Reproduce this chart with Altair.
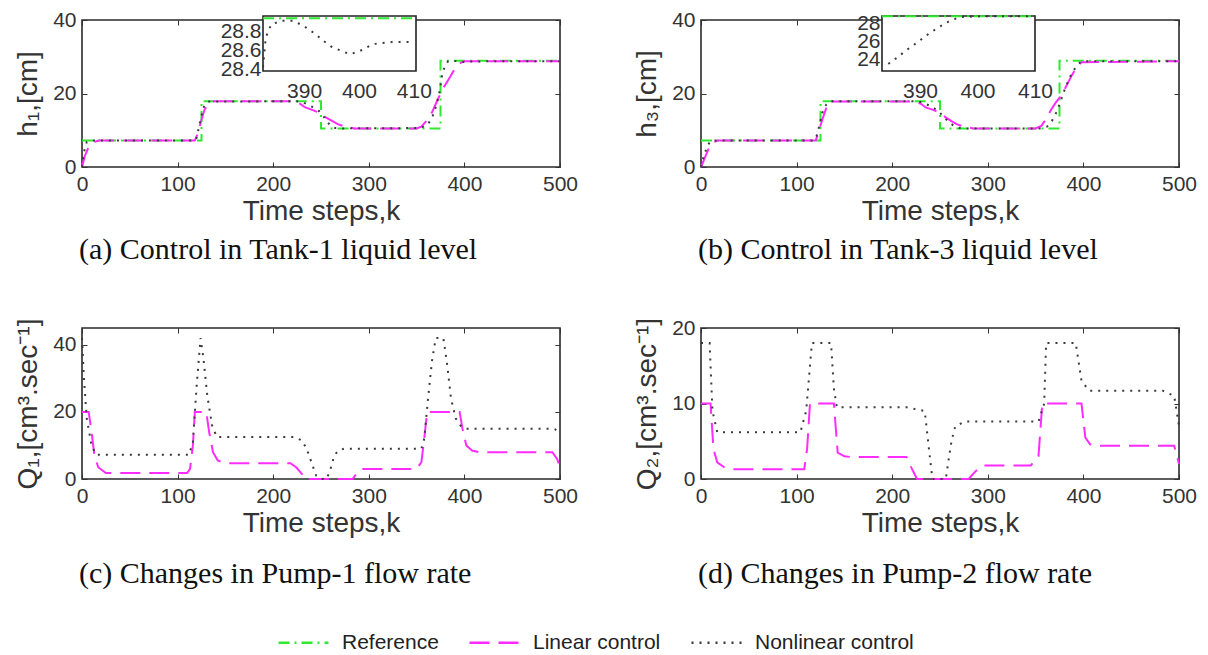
import altair as alt
import pandas as pd

# ---------------- data ----------------
SERIES = ["Reference", "Linear control", "Nonlinear control"]

# reference set-point (same for Tank-1 and Tank-3)
ref_t = [0, 125, 125, 250, 250, 375, 375, 500]
ref_v = [7.2, 7.2, 17.9, 17.9, 10.5, 10.5, 28.9, 28.9]

# (a) h1
lin_h1_t = [0, 3, 7, 12, 18, 118, 121, 124, 128, 132, 138, 222, 227, 233, 240, 248, 255, 262, 268, 275, 285,
            350, 355, 360, 366, 372, 378, 385, 390, 395, 400, 500]
lin_h1_v = [0, 3, 5.5, 6.8, 7.2, 7.2, 9, 12, 15.5, 17.2, 17.9, 17.9, 17.4, 16.3, 15.6, 14.8, 13.5, 12.5, 11.6, 11, 10.5,
            10.5, 11, 12.5, 14.8, 18.3, 21.5, 24.5, 26.8, 28.2, 28.8, 28.8]
non_h1_t = [0, 2, 5, 8, 118, 120, 122, 125, 128, 132, 225, 232, 240, 248, 252, 256, 260, 265, 270,
            354, 362, 367, 371, 374, 377, 380, 383, 388, 392, 396, 400, 404, 410, 430, 500]
non_h1_v = [0, 4, 6.8, 7.2, 7.2, 8, 10.5, 14, 16.8, 17.8, 17.9, 17.5, 16.5, 15.2, 14, 12.5, 11.2, 10.6, 10.5,
            10.6, 11.6, 14, 17, 20.5, 25.5, 27.7, 28.8, 28.9, 28.8, 28.6, 28.6, 28.7, 28.7, 28.8, 28.8]

# (b) h3
lin_h3_t = [0, 4, 8, 13, 18, 120, 123, 127, 131, 135, 225, 230, 235, 242, 250, 256, 262, 268, 275, 285,
            350, 356, 361, 366, 371, 377, 382, 388, 393, 398, 500]
lin_h3_v = [0, 2.5, 5, 6.8, 7.2, 7.2, 9.5, 13, 16, 17.8, 17.8, 17.2, 16.2, 15.6, 14.8, 13.5, 12.5, 11.6, 11, 10.5,
            10.5, 11.2, 13, 15.5, 17.5, 19.5, 22, 25, 27.2, 28.5, 28.8]
non_h3_t = [0, 3, 7, 11, 118, 121, 124, 127, 131, 135, 226, 232, 240, 248, 254, 260, 266, 272,
            356, 362, 367, 372, 377, 381, 384.5, 388, 391.5, 394.5, 397.5, 402, 500]
non_h3_v = [0, 3, 6, 7.2, 7.2, 8.5, 11.5, 14.8, 17, 17.9, 17.9, 17.5, 16.6, 15.3, 13.6, 12, 11, 10.5,
            10.5, 11, 12.5, 15, 18.5, 21.5, 23.6, 25.6, 26.9, 28.0, 28.6, 28.8, 28.8]

# (c) Q1
lin_q1_t = [0, 7, 10, 13, 17, 25, 110, 113, 116, 118, 130, 133, 137, 142, 150, 218, 224, 230, 233, 283, 287, 292,
            350, 355, 358, 361, 395, 398, 402, 408, 415, 492, 497, 500]
lin_q1_v = [20, 20, 14, 7, 3.5, 1.8, 1.8, 3, 10, 20, 20, 14, 8, 5.5, 4.7, 4.7, 3.5, 1.5, 0, 0, 1.5, 3,
            3, 5, 12, 20, 20, 15, 10, 8.5, 8, 8, 6, 3.5]
non_q1_t = [0, 2, 5, 10, 15, 112, 116, 120, 124, 127, 131, 136, 141, 222, 230, 235, 240, 245, 250, 256, 260,
            264, 268, 274, 355, 358, 362, 366, 370, 378, 382, 386, 391, 397, 403, 490, 495, 500]
non_q1_v = [42, 30, 18, 10, 7.2, 7.2, 11, 28, 42, 36, 25, 16, 12.5, 12.5, 11.5, 9, 5, 1, 0, 0, 3,
            7, 8.5, 9, 9, 12, 24, 35, 42, 42, 34, 24, 18, 15.5, 15, 15, 14.8, 13.5]

# (d) Q2
lin_q2_t = [0, 10, 13, 17, 25, 35, 108, 111, 114, 139, 143, 150, 158, 215, 220, 226, 280, 287, 295,
            345, 353, 357, 398, 402, 407, 414, 495, 500]
lin_q2_v = [10, 10, 4, 2.2, 1.5, 1.3, 1.3, 4, 10, 10, 3.5, 3.0, 2.9, 2.9, 1.5, 0, 0, 1.0, 1.8,
            1.8, 3, 10, 10, 5.5, 4.6, 4.4, 4.4, 2]
non_q2_t = [0, 9, 12, 17, 104, 110, 116, 136, 139, 142, 215, 234, 242, 256, 262, 266, 276,
            353, 359, 361, 392, 398, 406, 483, 495, 500]
non_q2_v = [18, 18, 9, 6.2, 6.2, 9, 18, 18, 12, 9.5, 9.5, 9, 0, 0, 5, 7, 7.6,
            7.6, 10, 18, 18, 13, 11.7, 11.7, 11, 7]

# insets (zoom of 383..410)
ins_a_non_t = [382.5, 383, 384, 386, 388, 390, 392, 393.6, 395, 397, 398.4, 400, 401.3, 402.7, 404.3, 406, 410]
ins_a_non_v = [28.42, 28.74, 28.88, 28.92, 28.92, 28.86, 28.78, 28.7, 28.64, 28.59, 28.56, 28.59, 28.63, 28.67,
               28.68, 28.69, 28.69]
ins_a_ref_t = [382.5, 410.4]
ins_a_ref_v = [28.945, 28.945]
ins_b_non_t = [384.5, 386.1, 387.5, 388.9, 390.3, 391.6, 393.1, 394.5, 395.9, 397.3, 400, 410]
ins_b_non_v = [23.57, 24.29, 25.0, 25.62, 26.27, 26.88, 27.49, 28.03, 28.43, 28.68, 28.74, 28.75]
ins_b_ref_t = [383.4, 410]
ins_b_ref_v = [28.76, 28.76]

X_TICKS = [0, 100, 200, 300, 400, 500]

# ---------------- styling ----------------
COLORS = ["#2fe82f", "#ff2bff", "#3a3a3a"]
DASHES = [[11, 5, 2, 5], [20, 9], [2, 6]]
LBL = "Liberation Sans"
SERIF = "Liberation Serif"
TXT = "#333333"
W, H1, H2 = 478, 147, 151


def long(parts):
    rows = []
    for name, ts, vs in parts:
        for i, (t, v) in enumerate(zip(ts, vs)):
            rows.append({"t": t, "v": v, "series": name, "i": i})
    return pd.DataFrame(rows)


color_enc = alt.Color("series:N", scale=alt.Scale(domain=SERIES, range=COLORS),
                      legend=alt.Legend(title=None, orient="none", direction="horizontal",
                                        legendX=195, legendY=596, symbolType="stroke",
                                        symbolSize=2500, symbolStrokeWidth=2.5, labelFont=LBL,
                                        labelFontSize=21, labelColor="#222", labelOffset=12,
                                        columnPadding=25, labelLimit=400))
dash_enc = alt.StrokeDash("series:N", scale=alt.Scale(domain=SERIES, range=DASHES), legend=None)


def tick_axis(orient, offset, values):
    return alt.Axis(orient=orient, offset=offset, values=values, labels=False, domain=False,
                    grid=False, ticks=True, tickSize=5, tickColor="#333", tickWidth=1, title=None)


def panel(parts, ydom, yticks, ytitle, caption, h, cap_off, inset=None):
    df = long(parts)
    xsc = alt.Scale(domain=[0, 500], nice=False)
    ysc = alt.Scale(domain=ydom, nice=False)
    main = alt.Chart(df).mark_line(strokeWidth=2).encode(
        x=alt.X("t:Q", scale=xsc,
                axis=alt.Axis(values=X_TICKS, title="Time steps,k", grid=False, ticks=False,
                              domain=False, labelPadding=6, titlePadding=3, labelFlush=False)),
        y=alt.Y("v:Q", scale=ysc,
                axis=alt.Axis(values=yticks, title=ytitle, grid=False, ticks=False, domain=False,
                              labelPadding=6, titlePadding=10, labelFlush=False)),
        color=color_enc,
        strokeDash=dash_enc,
        order="i:Q",
    )
    # inward (MATLAB-style) ticks on all four sides
    ticks_bl = alt.Chart(df).mark_point(opacity=0).encode(
        x=alt.X("t:Q", scale=xsc, axis=tick_axis("top", -h, X_TICKS)),
        y=alt.Y("v:Q", scale=ysc, axis=tick_axis("right", -W, yticks)),
    )
    ticks_tr = alt.Chart(df).mark_point(opacity=0).encode(
        x=alt.X("t:Q", scale=xsc, axis=tick_axis("bottom", -h, X_TICKS)),
        y=alt.Y("v:Q", scale=ysc, axis=tick_axis("left", -W, yticks)),
    )
    layers = [main, ticks_bl, ticks_tr]
    if inset is not None:
        xd, yd, yvals, yfmt, ipart = inset
        box = pd.DataFrame({"x0": [xd[0]], "x1": [xd[1]], "y0": [yd[0]], "y1": [yd[1]]})
        xs = alt.Scale(domain=xd, range=[181, 334], nice=False, zero=False)
        ys = alt.Scale(domain=yd, range=[51, -4], nice=False, zero=False)
        rect = alt.Chart(box).mark_rect(fill="white", stroke="#222", strokeWidth=1.6).encode(
            x=alt.X("x0:Q", scale=xs,
                    axis=alt.Axis(orient="bottom", offset=51 - h, values=[390, 400, 410], title=None,
                                  grid=False, ticks=False, domain=False, labelPadding=9,
                                  labelOverlap=False, labelFlush=False)),
            x2="x1:Q",
            y=alt.Y("y0:Q", scale=ys,
                    axis=alt.Axis(orient="left", offset=-181, values=yvals, format=yfmt, title=None,
                                  grid=False, ticks=False, domain=False, labelPadding=2,
                                  labelOverlap=False, labelFlush=False)),
            y2="y1:Q",
        )
        ilines = alt.Chart(long(ipart)).mark_line(strokeWidth=2).encode(
            x=alt.X("t:Q", scale=xs, axis=None),
            y=alt.Y("v:Q", scale=ys, axis=None),
            color=color_enc,
            strokeDash=dash_enc,
            order="i:Q",
        )
        layers += [rect, ilines]
    ch = alt.layer(*layers).properties(
        width=W, height=h,
        title=alt.TitleParams(caption, orient="bottom", anchor="start", frame="group", font=SERIF,
                              fontSize=30, fontWeight="normal", color="#111", offset=cap_off, dx=-3),
    )
    if inset is not None:
        ch = ch.resolve_scale(x="independent", y="independent")
    else:
        ch = ch.resolve_axis(x="independent", y="independent")
    return ch


pa = panel([("Reference", ref_t, ref_v), ("Linear control", lin_h1_t, lin_h1_v),
            ("Nonlinear control", non_h1_t, non_h1_v)],
           [0, 40], [0, 20, 40], "h\u2081,[cm]", "(a) Control in Tank-1 liquid level", H1, 10,
           inset=([382.5, 410.4], [28.38, 28.97], [28.4, 28.6, 28.8], ".1f",
                  [("Reference", ins_a_ref_t, ins_a_ref_v), ("Nonlinear control", ins_a_non_t, ins_a_non_v)]))
pb = panel([("Reference", ref_t, ref_v), ("Linear control", lin_h3_t, lin_h3_v),
            ("Nonlinear control", non_h3_t, non_h3_v)],
           [0, 40], [0, 20, 40], "h\u2083,[cm]", "(b) Control in Tank-3 liquid level", H1, 10,
           inset=([383.4, 410], [22.8, 28.78], [24, 26, 28], "d",
                  [("Reference", ins_b_ref_t, ins_b_ref_v), ("Nonlinear control", ins_b_non_t, ins_b_non_v)]))
pc = panel([("Linear control", lin_q1_t, lin_q1_v), ("Nonlinear control", non_q1_t, non_q1_v)],
           [0, 45], [0, 20, 40], "Q\u2081,[cm\u00b3.sec\u207b\u00b9]", "(c) Changes in Pump-1 flow rate", H2, 22)
pd_ = panel([("Linear control", lin_q2_t, lin_q2_v), ("Nonlinear control", non_q2_t, non_q2_v)],
            [0, 20], [0, 10, 20], "Q\u2082,[cm\u00b3.sec\u207b\u00b9]", "(d) Changes in Pump-2 flow rate", H2, 22)

chart = alt.vconcat(
    alt.hconcat(pa, pb, spacing=53),
    alt.hconcat(pc, pd_, spacing=53),
    spacing=50,
).properties(padding={"left": 5, "top": 0, "right": 0, "bottom": 0}).configure_view(
    stroke="#2a2a2a", strokeWidth=1.6
).configure_axis(
    labelFont=LBL, labelFontSize=21, labelColor=TXT, titleFont=LBL, titleFontSize=28,
    titleFontWeight="normal", titleColor=TXT
)

chart.save("out.html", embed_options={"renderer": "svg", "actions": False})
